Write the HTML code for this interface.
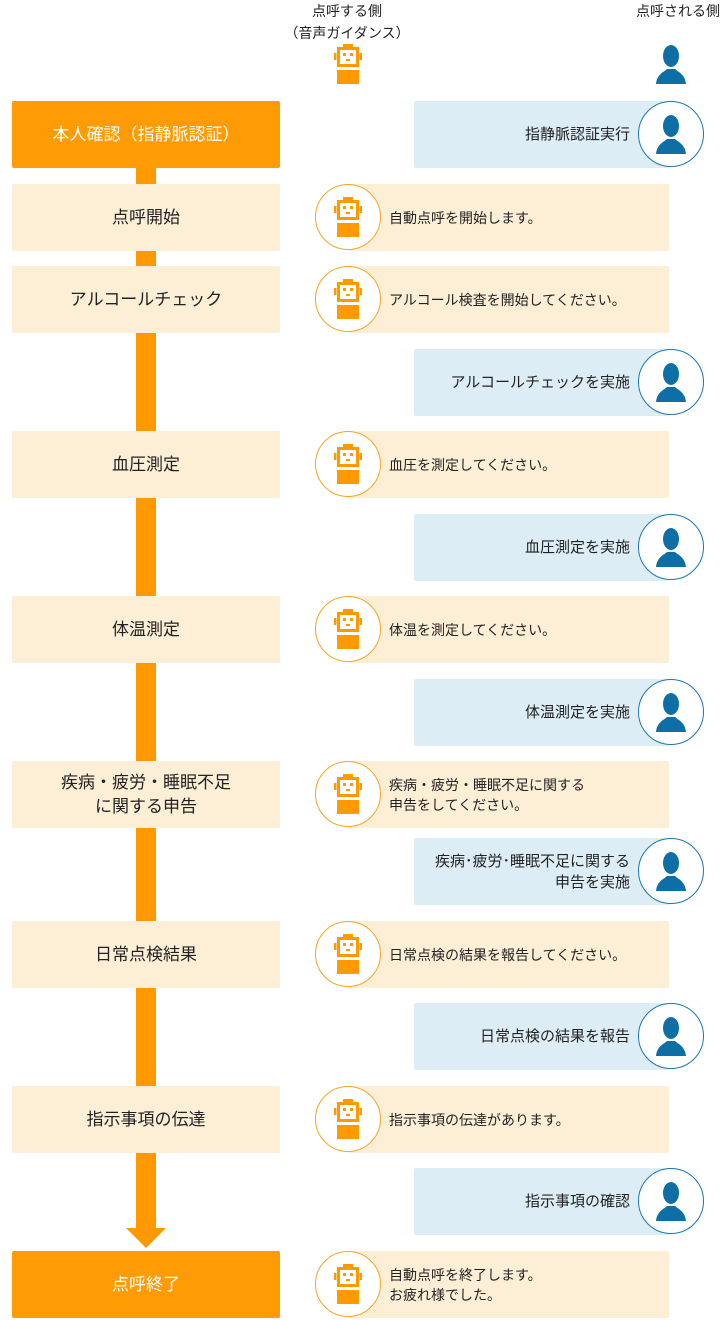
<!DOCTYPE html>
<html><head><meta charset="utf-8"><style>
body{margin:0;width:720px;height:1320px;background:#fff;position:relative;font-family:"Liberation Sans","Noto Sans CJK JP",sans-serif;color:#222;overflow:hidden}
.a{position:absolute}
.l{position:absolute;left:12px;width:268px;height:67px;background:#fdeed6;border-radius:2px;display:flex;align-items:center;justify-content:center;text-align:center;font-size:17px;line-height:24px}
.l.d{background:#ff9b05;color:#fff}
.r{position:absolute;left:348px;width:321px;height:67px;background:#fdeed6;border-radius:2px;display:flex;align-items:center;padding-left:41px;box-sizing:border-box;font-size:14px;line-height:20px}
.rc{position:absolute;left:315px;width:64px;height:64px;border:1.5px solid #f5a623;border-radius:50%;background:#fff;display:flex;align-items:center;justify-content:center}
.b{position:absolute;left:414px;width:256px;height:67px;background:#ddedf6;border-radius:2px;display:flex;align-items:center;justify-content:flex-end;padding-right:40px;box-sizing:border-box;font-size:15px;line-height:21px;text-align:right}
.bc{position:absolute;left:638px;width:64px;height:64px;border:1.5px solid #1a77b0;border-radius:50%;background:#fff;display:flex;align-items:center;justify-content:center}
</style></head><body>
<svg width="0" height="0" style="position:absolute"><defs>
<g id="rb"><rect x="9" y="0" width="10" height="3" fill="#ff9900"/><rect x="4.5" y="4.5" width="19" height="17" fill="none" stroke="#ff9900" stroke-width="3"/><rect x="0" y="9" width="2.5" height="7" fill="#ff9900"/><rect x="25.5" y="9" width="2.5" height="7" fill="#ff9900"/><rect x="9" y="9" width="3" height="3" fill="#ff9900"/><rect x="16" y="9" width="3" height="3" fill="#ff9900"/><rect x="12" y="15" width="4" height="2" fill="#ff9900"/><rect x="3" y="26" width="22" height="14" fill="#ff9900"/></g>
<g id="pp"><ellipse cx="15" cy="12" rx="8" ry="11" fill="#0d6fa6"/><path d="M0 40 C1 30 8 28 11 25 L19 25 C22 28 29 30 30 40 Z" fill="#0d6fa6"/></g>
</defs></svg>
<div class="a" style="left:267px;top:0;width:160px;text-align:center;font-size:14px;line-height:22px;white-space:nowrap">点呼する側<br>（音声ガイダンス）</div>
<svg class="a" style="left:334px;top:44px" width="28" height="40"><use href="#rb"/></svg>
<div class="a" style="left:600px;top:0;width:120px;text-align:right;font-size:14px;line-height:22px;white-space:nowrap">点呼される側</div>
<svg class="a" style="left:656px;top:44px" width="30" height="40"><use href="#pp"/></svg>
<div class="a" style="left:136px;top:150px;width:20px;height:1080px;background:#ff9900"></div>
<div class="a" style="left:126px;top:1228px;width:0;height:0;border-left:20px solid transparent;border-right:20px solid transparent;border-top:20px solid #ff9900"></div>

<div class="l d" style="top:101px">本人確認（指静脈認証）</div>
<div class="l" style="top:184px">点呼開始</div>
<div class="l" style="top:266px">アルコールチェック</div>
<div class="l" style="top:431px">血圧測定</div>
<div class="l" style="top:596px">体温測定</div>
<div class="l" style="top:761px">疾病・疲労・睡眠不足<br>に関する申告</div>
<div class="l" style="top:921px">日常点検結果</div>
<div class="l" style="top:1086px">指示事項の伝達</div>
<div class="l d" style="top:1251px">点呼終了</div>

<div class="r" style="top:184px">自動点呼を開始します。</div>
<div class="r" style="top:266px">アルコール検査を開始してください。</div>
<div class="r" style="top:431px">血圧を測定してください。</div>
<div class="r" style="top:596px">体温を測定してください。</div>
<div class="r" style="top:761px">疾病・疲労・睡眠不足に関する<br>申告をしてください。</div>
<div class="r" style="top:921px">日常点検の結果を報告してください。</div>
<div class="r" style="top:1086px">指示事項の伝達があります。</div>
<div class="r" style="top:1251px">自動点呼を終了します。<br>お疲れ様でした。</div>
<div class="rc" style="top:184px"><svg width="28" height="40"><use href="#rb"/></svg></div>
<div class="rc" style="top:266px"><svg width="28" height="40"><use href="#rb"/></svg></div>
<div class="rc" style="top:431px"><svg width="28" height="40"><use href="#rb"/></svg></div>
<div class="rc" style="top:596px"><svg width="28" height="40"><use href="#rb"/></svg></div>
<div class="rc" style="top:761px"><svg width="28" height="40"><use href="#rb"/></svg></div>
<div class="rc" style="top:921px"><svg width="28" height="40"><use href="#rb"/></svg></div>
<div class="rc" style="top:1086px"><svg width="28" height="40"><use href="#rb"/></svg></div>
<div class="rc" style="top:1251px"><svg width="28" height="40"><use href="#rb"/></svg></div>

<div class="b" style="top:101px">指静脈認証実行</div>
<div class="b" style="top:349px">アルコールチェックを実施</div>
<div class="b" style="top:514px">血圧測定を実施</div>
<div class="b" style="top:679px">体温測定を実施</div>
<div class="b" style="top:838px">疾病･疲労･睡眠不足に関する<br>申告を実施</div>
<div class="b" style="top:1003px">日常点検の結果を報告</div>
<div class="b" style="top:1168px">指示事項の確認</div>
<div class="bc" style="top:101px"><svg width="30" height="40"><use href="#pp"/></svg></div>
<div class="bc" style="top:349px"><svg width="30" height="40"><use href="#pp"/></svg></div>
<div class="bc" style="top:514px"><svg width="30" height="40"><use href="#pp"/></svg></div>
<div class="bc" style="top:679px"><svg width="30" height="40"><use href="#pp"/></svg></div>
<div class="bc" style="top:838px"><svg width="30" height="40"><use href="#pp"/></svg></div>
<div class="bc" style="top:1003px"><svg width="30" height="40"><use href="#pp"/></svg></div>
<div class="bc" style="top:1168px"><svg width="30" height="40"><use href="#pp"/></svg></div>
</body></html>
